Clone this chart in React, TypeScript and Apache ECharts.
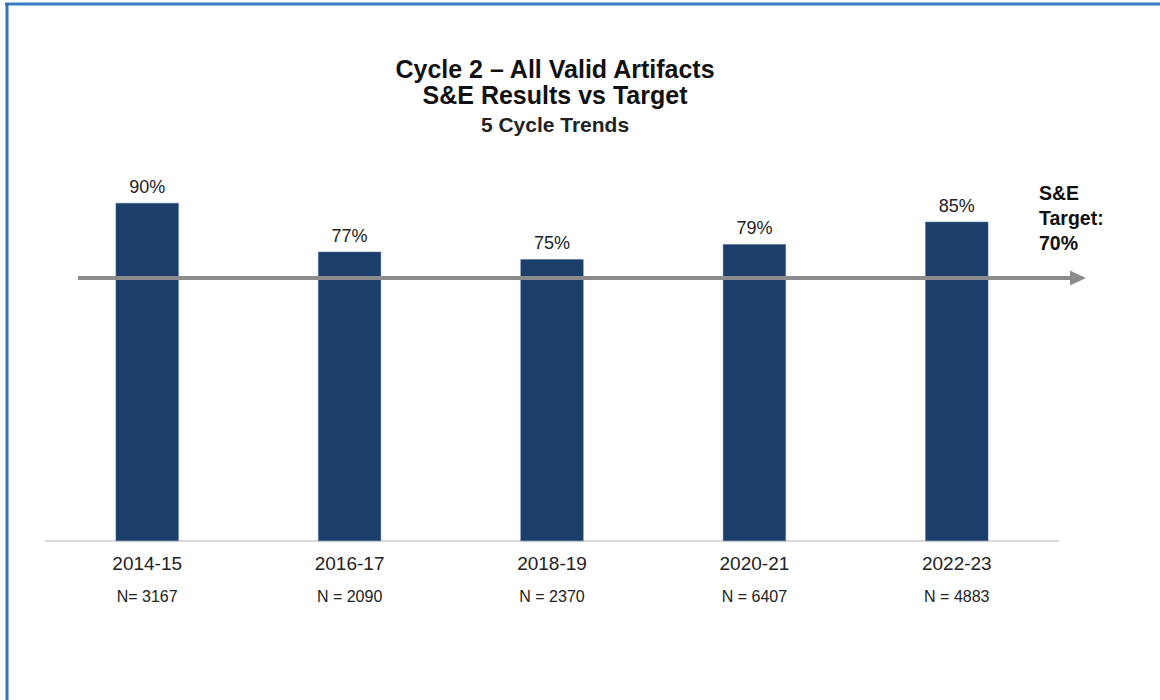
import React, { useEffect, useRef } from "react";
import * as echarts from "echarts";

const categories = ["2014-15", "2016-17", "2018-19", "2020-21", "2022-23"];
const values = [90, 77, 75, 79, 85];
const nLabels = ["N= 3167", "N = 2090", "N = 2370", "N = 6407", "N = 4883"];
const target = 70;
const titleLines = ["Cycle 2 – All Valid Artifacts", "S&E Results vs Target", "5 Cycle Trends"];
const targetLabel = "S&E\nTarget:\n70%";

const FONT = "'Liberation Sans', Arial, sans-serif";

export default function App() {
  const ref = useRef<HTMLDivElement>(null);
  useEffect(() => {
    if (!ref.current) return;
    const chart = echarts.init(ref.current, undefined, { renderer: "svg" });
    chart.setOption({
      animation: false,
      backgroundColor: "#ffffff",
      textStyle: { fontFamily: FONT },
      title: [
        {
          text: titleLines[0], left: 555, top: 55, textAlign: "center", padding: 0,
          textStyle: { fontSize: 25, fontWeight: "bold", color: "#111", lineHeight: 28, fontFamily: FONT },
        },
        {
          text: titleLines[1], left: 555, top: 81, textAlign: "center", padding: 0,
          textStyle: { fontSize: 25, fontWeight: "bold", color: "#111", lineHeight: 28, fontFamily: FONT },
        },
        {
          text: titleLines[2], left: 555, top: 111, textAlign: "center", padding: 0,
          textStyle: { fontSize: 21, fontWeight: "bold", color: "#222", lineHeight: 26, fontFamily: FONT },
        },
      ],
      grid: { left: 46, right: 102, top: 165.4, bottom: 159, containLabel: false },
      xAxis: {
        type: "category",
        data: categories,
        axisLine: { show: true, lineStyle: { color: "#d9d9d9", width: 2 } },
        axisTick: { show: false },
        axisLabel: {
          margin: 10,
          formatter: (v: string, i: number) => `{a|${v}}\n{b|${nLabels[i]}}`,
          rich: {
            a: { fontSize: 19, lineHeight: 24, color: "#222", fontFamily: FONT },
            b: { fontSize: 16, lineHeight: 42, color: "#222", fontFamily: FONT },
          },
        },
      },
      yAxis: { type: "value", min: 0, max: 100, show: false, splitLine: { show: false } },
      series: [
        {
          type: "bar",
          data: values,
          barWidth: 63,
          itemStyle: { color: "#1b3f6a", borderColor: "#4a6a94", borderWidth: 0.5 },
          label: {
            show: true,
            position: "top",
            distance: 7,
            formatter: "{c}%",
            fontSize: 18,
            color: "#222",
            fontFamily: FONT,
          },
        },
      ],
    });
    const ty = chart.convertToPixel({ yAxisIndex: 0 }, target) as number;
    chart.setOption({
      graphic: [
        { type: "line", shape: { x1: 5, y1: 4, x2: 1160, y2: 4 }, style: { stroke: "#3a7cc0", lineWidth: 3 }, z: 100 },
        { type: "line", shape: { x1: 7, y1: 3, x2: 7, y2: 700 }, style: { stroke: "#2e75b6", lineWidth: 3 }, z: 100 },
        { type: "line", shape: { x1: 78, y1: ty, x2: 1072, y2: ty }, style: { stroke: "#8c8c8c", lineWidth: 4 }, z: 100 },
        { type: "polygon", shape: { points: [[1070, ty - 7.5], [1086, ty], [1070, ty + 7.5]] }, style: { fill: "#8c8c8c" }, z: 100 },
        {
          type: "text", x: 1039, y: ty - 98, z: 100,
          style: { text: targetLabel, font: `bold 19.5px ${FONT}`, fill: "#111", lineHeight: 25, textVerticalAlign: "top" },
        },
      ],
    });
    return () => chart.dispose();
  }, []);
  return <div ref={ref} style={{ position: "fixed", left: 0, top: 0, width: 1160, height: 700 }} />;
}
